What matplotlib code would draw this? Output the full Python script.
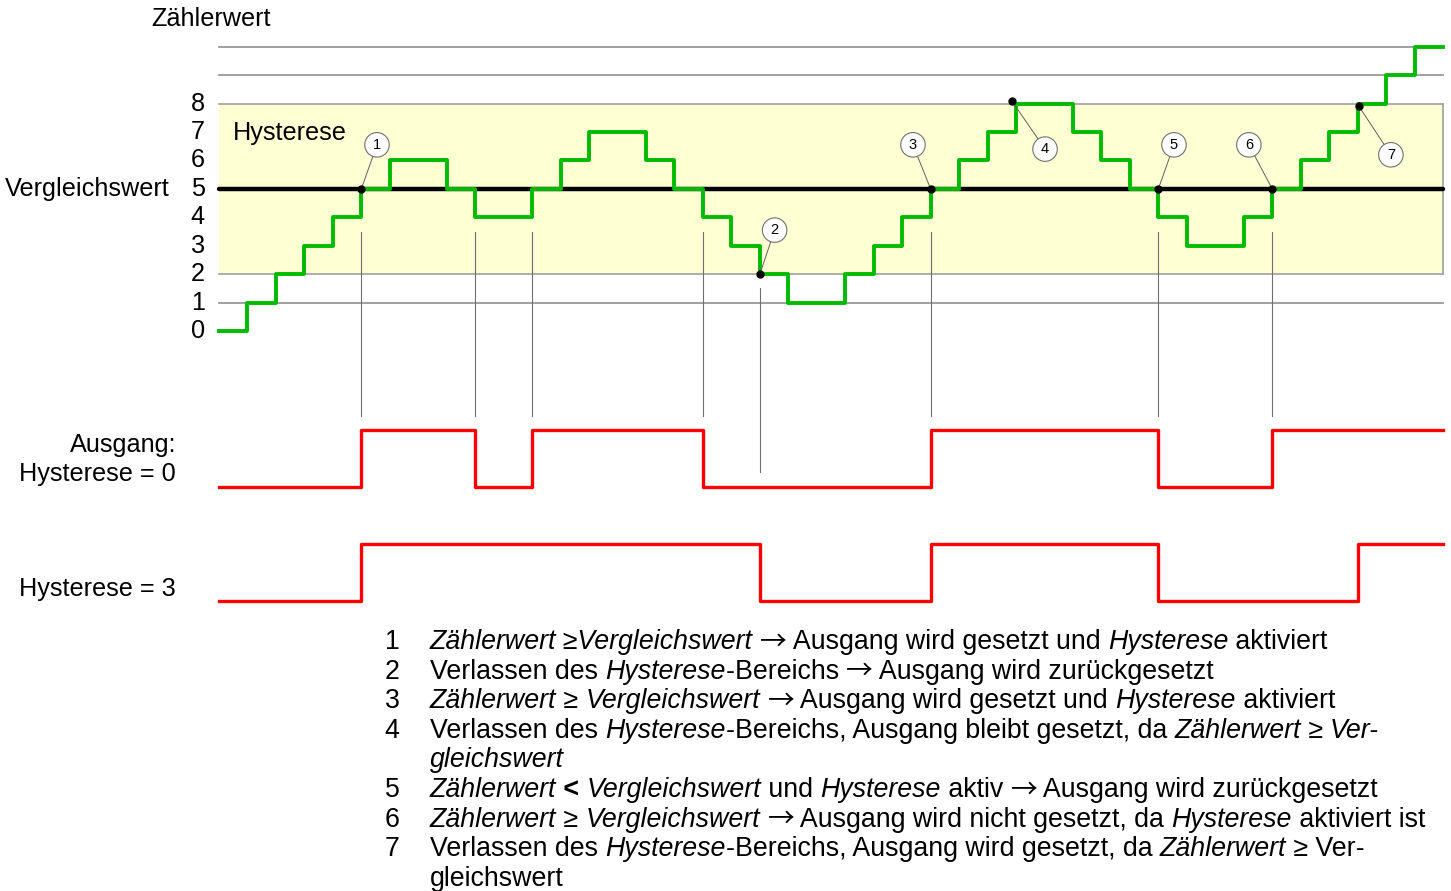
import matplotlib
matplotlib.use("Agg")
import matplotlib.pyplot as plt
import numpy as np

# ---- data -------------------------------------------------------------
# counter value during each time step
counter = [0, 1, 2, 3, 4, 5, 6, 6, 5, 4, 4, 5, 6, 7, 7, 6, 5, 4, 3, 2, 1, 1,
           2, 3, 4, 5, 6, 7, 8, 8, 7, 6, 5, 4, 3, 3, 4, 5, 6, 7, 8, 9, 10]
# output state per time step, hysteresis 0 and hysteresis 3
out_hyst0 = [0] * 5 + [1] * 4 + [0] * 2 + [1] * 6 + [0] * 8 + [1] * 8 + [0] * 4 + [1] * 6
out_hyst3 = [0] * 5 + [1] * 14 + [0] * 6 + [1] * 8 + [0] * 7 + [1] * 3
compare_value = 5
hyst_low, hyst_high = 2, 8
y_ticks = [0, 1, 2, 3, 4, 5, 6, 7, 8]
grid_levels = [1, 9, 10]
switch_times = [5, 9, 11, 17, 25, 33, 37]     # guide lines to output 0
leave_time = 19                                # leaving band (marker 2)
# markers: number, point (t, value), label position (t, value)
markers = [
    ("1", (5, 5), (5.55, 6.55)),
    ("2", (19, 2), (19.52, 3.55)),
    ("3", (25, 5), (24.38, 6.55)),
    ("4", (27.85, 8.1), (29.02, 6.4)),
    ("5", (33, 5), (33.55, 6.55)),
    ("6", (37, 5), (36.18, 6.55)),
    ("7", (40.05, 7.9), (41.17, 6.2)),
]
legend_lines = [
    ("1", [("Zählerwert ≥Vergleichswert", "i"), (" → Ausgang wird gesetzt und ", "n"),
           ("Hysterese", "i"), (" aktiviert", "n")]),
    ("2", [("Verlassen des ", "n"), ("Hysterese", "i"),
           ("-Bereichs → Ausgang wird zurückgesetzt", "n")]),
    ("3", [("Zählerwert", "i"), (" ≥ ", "n"), ("Vergleichswert", "i"),
           (" → Ausgang wird gesetzt und ", "n"), ("Hysterese", "i"), (" aktiviert", "n")]),
    ("4", [("Verlassen des ", "n"), ("Hysterese", "i"),
           ("-Bereichs, Ausgang bleibt gesetzt, da ", "n"), ("Zählerwert", "i"),
           (" ≥ ", "n"), ("Ver-", "i")]),
    ("", [("gleichswert", "i")]),
    ("5", [("Zählerwert", "i"), (" < ", "b"), ("Vergleichswert", "i"), (" und ", "n"),
           ("Hysterese", "i"), (" aktiv → Ausgang wird zurückgesetzt", "n")]),
    ("6", [("Zählerwert", "i"), (" ≥ ", "n"), ("Vergleichswert", "i"),
           (" → Ausgang wird nicht gesetzt, da ", "n"), ("Hysterese", "i"),
           (" aktiviert ist", "n")]),
    ("7", [("Verlassen des ", "n"), ("Hysterese", "i"),
           ("-Bereichs, Ausgang wird gesetzt, da ", "n"), ("Zählerwert", "i"),
           (" ≥ Ver-", "n")]),
    ("", [("gleichswert", "n")]),
]

# ---- layout -----------------------------------------------------------
W, H = 1451, 891
FAM = ["Liberation Sans", "DejaVu Sans"]
plt.rcParams["font.family"] = FAM
FS = 18.2
FS_LIST = 19.25

fig = plt.figure(figsize=(W / 100, H / 100), dpi=100)
ax = fig.add_axes([0, 0, 1, 1])
ax.set_axis_off()
px_t = 28.465
px_v = 28.42
ax.set_xlim(-219 / px_t, (W - 219) / px_t)
ax.set_ylim(-(H - 331) / px_v, 331 / px_v)

n = len(counter)
t = np.arange(n + 1)
t_end = n

# output signal levels (baseline / high) in value units
h0_base, h3_base, amp = -5.5, -9.5, 2.0

# band of hysteresis
ax.fill_between([0, t_end], hyst_low, hyst_high, color="#FFFFD4", zorder=1, lw=0)
for lv in [hyst_low, hyst_high]:
    ax.plot([0, t_end], [lv, lv], color="#A0A0A0", lw=1.2, zorder=2)
ax.plot([t_end, t_end], [hyst_low, hyst_high], color="#A0A0A0", lw=1.2, zorder=2)
for lv in grid_levels:
    ax.plot([0, t_end], [lv, lv], color="#909090", lw=1.2, zorder=2)

# compare value
ax.plot([0, t_end], [compare_value, compare_value], color="black", lw=3.2,
        solid_capstyle="round", zorder=3)

# counter staircase
ax.step(t, counter + [counter[-1]], where="post", color="#00BB00", lw=2.8, zorder=4)

# guide lines
for st in switch_times:
    ax.plot([st, st], [3.5, -3.0], color="#707070", lw=0.8, zorder=2)
ax.plot([leave_time, leave_time], [1.5, -4.95], color="#707070", lw=0.8, zorder=2)

# outputs
ax.step(t, [h0_base + amp * v for v in out_hyst0 + [out_hyst0[-1]]], where="post",
        color="#FF0000", lw=2.4, zorder=4)
ax.step(t, [h3_base + amp * v for v in out_hyst3 + [out_hyst3[-1]]], where="post",
        color="#FF0000", lw=2.4, zorder=4)

# markers
for num, pt, lab in markers:
    ax.plot([pt[0], lab[0]], [pt[1], lab[1]], color="#606060", lw=0.7, zorder=5)
    ax.plot(*pt, "o", color="black", ms=5, zorder=6)
    ax.text(lab[0], lab[1], num, ha="center", va="center", fontsize=10.5, zorder=7,
            bbox=dict(boxstyle="circle,pad=0.36", fc="white", ec="#707070", lw=0.8))

# axis texts
for v in y_ticks:
    ax.text(-0.5, v, str(v), ha="right", va="center", fontsize=FS)
ax.text(-1.72, compare_value, "Vergleichswert", ha="right", va="center", fontsize=FS)
ax.text(0.5, 6.97, "Hysterese", ha="left", va="center", fontsize=FS)


def fx(px):
    return px / W


def fy(py):
    return 1 - py / H


fig.text(fx(211), fy(19), "Zählerwert", ha="center", va="center", fontsize=FS)
fig.text(fx(176), fy(445), "Ausgang:", ha="right", va="center", fontsize=FS)
fig.text(fx(176), fy(474), "Hysterese = 0", ha="right", va="center", fontsize=FS)
fig.text(fx(176), fy(589), "Hysterese = 3", ha="right", va="center", fontsize=FS)

# explanation list with mixed styles
renderer = fig.canvas.get_renderer()
styles = {"n": dict(style="normal", weight="normal"),
          "i": dict(style="italic", weight="normal"),
          "b": dict(style="normal", weight="bold"),
          "a": dict(style="normal", weight="normal",
                    family=["Noto Sans CJK JP", "DejaVu Sans"])}


def split_arrows(segs):
    out = []
    for s, st in segs:
        parts = s.split("→")
        for k, p in enumerate(parts):
            if k > 0:
                out.append(("→", "a"))
            if p:
                out.append((p, st))
    return out


def seg_width(s, st):
    a = fig.text(0, 0, "|" + s + "|", fontsize=FS_LIST, **styles[st])
    b = fig.text(0, 0, "||", fontsize=FS_LIST, **styles[st])
    w = a.get_window_extent(renderer).width - b.get_window_extent(renderer).width
    a.remove()
    b.remove()
    return w


y0 = 639
dy = 29.6
for i, (num, segs) in enumerate(legend_lines):
    yy = y0 + i * dy
    if num:
        fig.text(fx(392), fy(yy), num, ha="center", va="center_baseline",
                 fontsize=FS_LIST)
    x = 430
    for s, st in split_arrows(segs):
        fig.text(fx(x), fy(yy), s, ha="left", va="center_baseline",
                 fontsize=FS_LIST, **styles[st])
        x += seg_width(s, st)

fig.savefig("out.png", dpi=100)
